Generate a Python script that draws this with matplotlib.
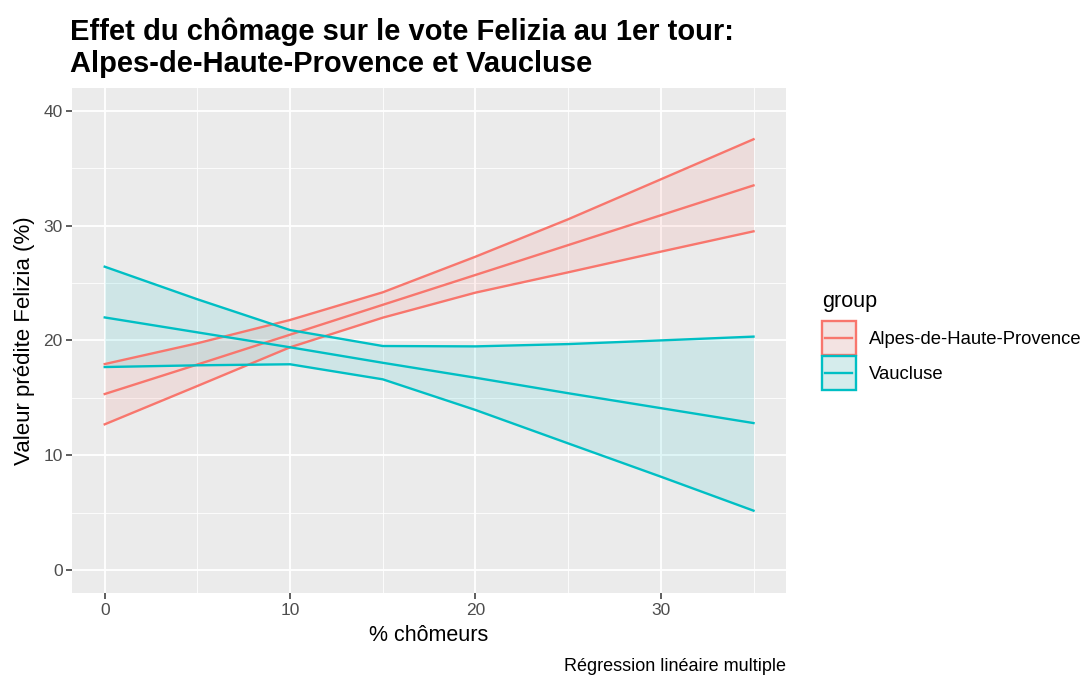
import matplotlib
matplotlib.use("Agg")
import matplotlib.pyplot as plt
from matplotlib.patches import Rectangle
from matplotlib.lines import Line2D
from matplotlib.colors import to_rgb

plt.rcParams['font.family'] = ['Liberation Sans', 'DejaVu Sans']

x = [0, 5, 10, 15, 20, 25, 30, 35]
groups = ["Alpes-de-Haute-Provence", "Vaucluse"]
alpes_fit = [15.33, 17.9, 20.5, 23.1, 25.7, 28.3, 30.9, 33.5]
alpes_low = [12.69, 16.03, 19.4, 21.98, 24.16, 25.93, 27.73, 29.5]
alpes_high = [17.94, 19.75, 21.78, 24.19, 27.29, 30.55, 34.03, 37.52]
vauc_fit = [22.0, 20.7, 19.4, 18.05, 16.75, 15.4, 14.1, 12.8]
vauc_low = [17.68, 17.83, 17.92, 16.61, 13.94, 11.03, 8.13, 5.17]
vauc_high = [26.42, 23.58, 20.9, 19.51, 19.48, 19.68, 20.0, 20.33]
colors = ["#F8766D", "#00BFC4"]

title = "Effet du chômage sur le vote Felizia au 1er tour:\nAlpes-de-Haute-Provence et Vaucluse"
xlabel = "% chômeurs"
ylabel = "Valeur prédite Felizia (%)"
caption = "Régression linéaire multiple"
xticks = [0, 10, 20, 30]
yticks = [0, 10, 20, 30, 40]


class Key:
    def __init__(self, fill, edge):
        self.fill = fill
        self.edge = edge


class KeyHandler:
    def legend_artist(self, legend, orig_handle, fontsize, handlebox):
        x0, y0 = handlebox.xdescent, handlebox.ydescent
        w, h = handlebox.width, handlebox.height
        tr = handlebox.get_transform()
        rect = Rectangle((-x0, -y0), w, h, facecolor=orig_handle.fill,
                         edgecolor=orig_handle.edge, linewidth=1.7, transform=tr)
        line = Line2D([-x0 + 0.1 * w, -x0 + 0.9 * w], [-y0 + h / 2] * 2,
                      color=orig_handle.edge, linewidth=1.7, transform=tr)
        handlebox.add_artist(rect)
        handlebox.add_artist(line)
        return rect


fig = plt.figure(figsize=(10.82, 6.75), dpi=100)
ax = fig.add_axes([0.0668, 0.1215, 0.6596, 0.7484])
ax.set_facecolor("#EBEBEB")

series = [(alpes_fit, alpes_low, alpes_high), (vauc_fit, vauc_low, vauc_high)]
alpha = 0.12
key_bg = to_rgb("#F2F2F2")
handles = []
for (fit, lo, hi), c, g in zip(series, colors, groups):
    ax.fill_between(x, lo, hi, color=c, alpha=alpha, linewidth=0, zorder=2)
    for s in (lo, fit, hi):
        ax.plot(x, s, color=c, linewidth=1.7, zorder=3)
    cr = to_rgb(c)
    keyfill = tuple(b + alpha * (cc - b) for cc, b in zip(cr, key_bg))
    handles.append(Key(keyfill, c))

ax.set_xlim(-1.75, 36.75)
ax.set_ylim(-2, 42)
ax.set_xticks(xticks)
ax.set_yticks(yticks)
ax.set_xticks([5, 15, 25, 35], minor=True)
ax.set_yticks([5, 15, 25, 35], minor=True)
ax.grid(which="major", color="white", linewidth=1.3, zorder=0)
ax.grid(which="minor", color="white", linewidth=0.6, zorder=0)
ax.set_axisbelow(True)
for sp in ax.spines.values():
    sp.set_visible(False)
ax.tick_params(which="major", length=4, width=1.1, color="#333333",
               labelsize=12.5, labelcolor="#4D4D4D", pad=3)
ax.tick_params(which="minor", length=0)

ax.set_xlabel(xlabel, fontsize=15.5, color="black", labelpad=5)
ax.set_ylabel(ylabel, fontsize=16, color="black", labelpad=6)

fig.text(0.0647, 0.884, title, fontsize=21, fontweight="bold", ha="left",
         va="bottom", linespacing=1.2)
fig.text(0.7264, 0.0, caption, fontsize=13, ha="right", va="bottom")

leg = ax.legend(handles, groups, title="group", loc="center left",
                bbox_to_anchor=(1.05, 0.5), frameon=False, fontsize=13.3,
                title_fontsize=15.5, handlelength=1.84, handleheight=2.45,
                handletextpad=0.7, labelspacing=0.05, borderaxespad=0.0,
                borderpad=0.0, handler_map={Key: KeyHandler()})
leg._legend_box.align = "left"
leg._legend_box.sep = 7

fig.savefig("out.png", dpi=100)
